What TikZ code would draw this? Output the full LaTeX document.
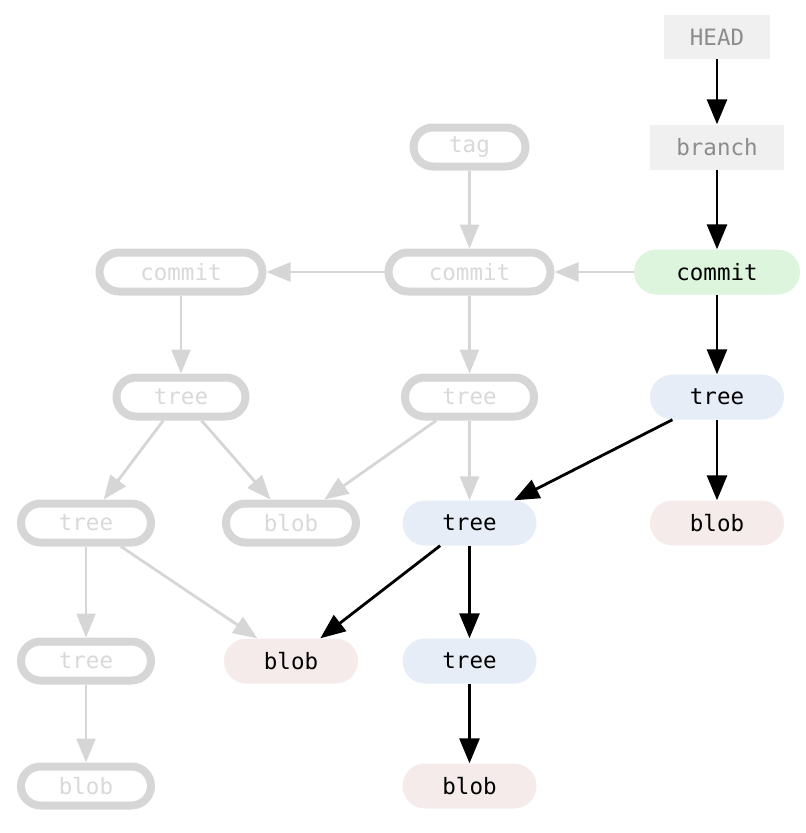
\documentclass[tikz,border=0pt]{standalone}
\usepackage{fontspec}
\setmonofont{DejaVu Sans Mono}
\usetikzlibrary{arrows.meta}
\definecolor{ghost}{RGB}{214,214,214}
\definecolor{ghosttext}{RGB}{218,216,216}
\definecolor{reffill}{RGB}{240,240,240}
\definecolor{reftext}{RGB}{140,140,140}
\definecolor{cfill}{RGB}{220,245,220}
\definecolor{tfill}{RGB}{230,237,247}
\definecolor{bfill}{RGB}{245,235,235}
\tikzset{
  base/.style={font=\ttfamily\fontsize{22.5}{26}\selectfont, inner sep=0pt},
  refbox/.style={base, rectangle, fill=reffill, text=reftext, minimum height=45pt},
  ghostbox/.style={base, draw=ghost, line width=8pt, fill=white, text=ghosttext, rounded corners=19.5pt, minimum height=39pt},
  livebox/.style={base, rounded corners=22.5pt, minimum height=45pt, text=black},
  ltree/.style={livebox, fill=tfill, minimum width=134pt},
  lblob/.style={livebox, fill=bfill, minimum width=134pt},
  liveedge/.style={line width=2.8pt, black, -{Triangle[length=25pt,width=20pt]}},
  ghostedge/.style={line width=2.8pt, ghost, -{Triangle[length=24pt,width=19pt]}},
}
\begin{document}
\begin{tikzpicture}[x=1pt,y=-1pt]
\useasboundingbox (0,0) rectangle (806,833);
% reference nodes
\node[refbox, minimum width=106pt, minimum height=44pt] (head) at (717,37) {HEAD};
\node[refbox, minimum width=134pt] (branch) at (717,147) {branch};
% live nodes
\node[livebox, fill=cfill, minimum width=166pt] (c1) at (717,272) {commit};
\node[ltree] (t1) at (717,397) {tree};
\node[lblob] (b1) at (717,523) {blob};
\node[ltree] (t2) at (469.5,523) {tree};
\node[ltree] (t3) at (469.5,661) {tree};
\node[lblob] (b2) at (469.5,786) {blob};
\node[lblob] (b3) at (291,661) {blob};
% ghost nodes
\node[ghostbox, minimum width=112pt] (tag) at (469.5,147) {tag};
\node[ghostbox, minimum width=162pt] (c2) at (469.5,272) {commit};
\node[ghostbox, minimum width=163pt] (c3) at (181,272) {commit};
\node[ghostbox, minimum width=129pt] (gt2) at (469.5,397) {tree};
\node[ghostbox, minimum width=129pt] (gt3) at (181,397) {tree};
\node[ghostbox, minimum width=130pt] (gt4) at (86,523) {tree};
\node[ghostbox, minimum width=130pt] (gb1) at (291,523) {blob};
\node[ghostbox, minimum width=130pt] (gt5) at (86,661) {tree};
\node[ghostbox, minimum width=130pt] (gb2) at (86,786) {blob};
% ghost edges
\draw[ghostedge] (c1) -- (c2);
\draw[ghostedge] (c2) -- (c3);
\draw[ghostedge] (tag) -- (c2);
\draw[ghostedge] (c3) -- (gt3);
\draw[ghostedge] (c2) -- (gt2);
\draw[ghostedge] (gt2) -- (t2);
\draw[ghostedge] (gt2) -- (gb1);
\draw[ghostedge] (gt3) -- (gt4);
\draw[ghostedge] (gt3) -- (gb1);
\draw[ghostedge] (gt4) -- (gt5);
\draw[ghostedge] (gt4) -- (b3);
\draw[ghostedge] (gt5) -- (gb2);
% live edges
\draw[liveedge] (head) -- (branch);
\draw[liveedge] (branch) -- (c1);
\draw[liveedge] (c1) -- (t1);
\draw[liveedge] (t1) -- (b1);
\draw[liveedge] (t1) -- (t2);
\draw[liveedge] (t2) -- (t3);
\draw[liveedge] (t2) -- (b3);
\draw[liveedge] (t3) -- (b2);
\end{tikzpicture}
\end{document}
